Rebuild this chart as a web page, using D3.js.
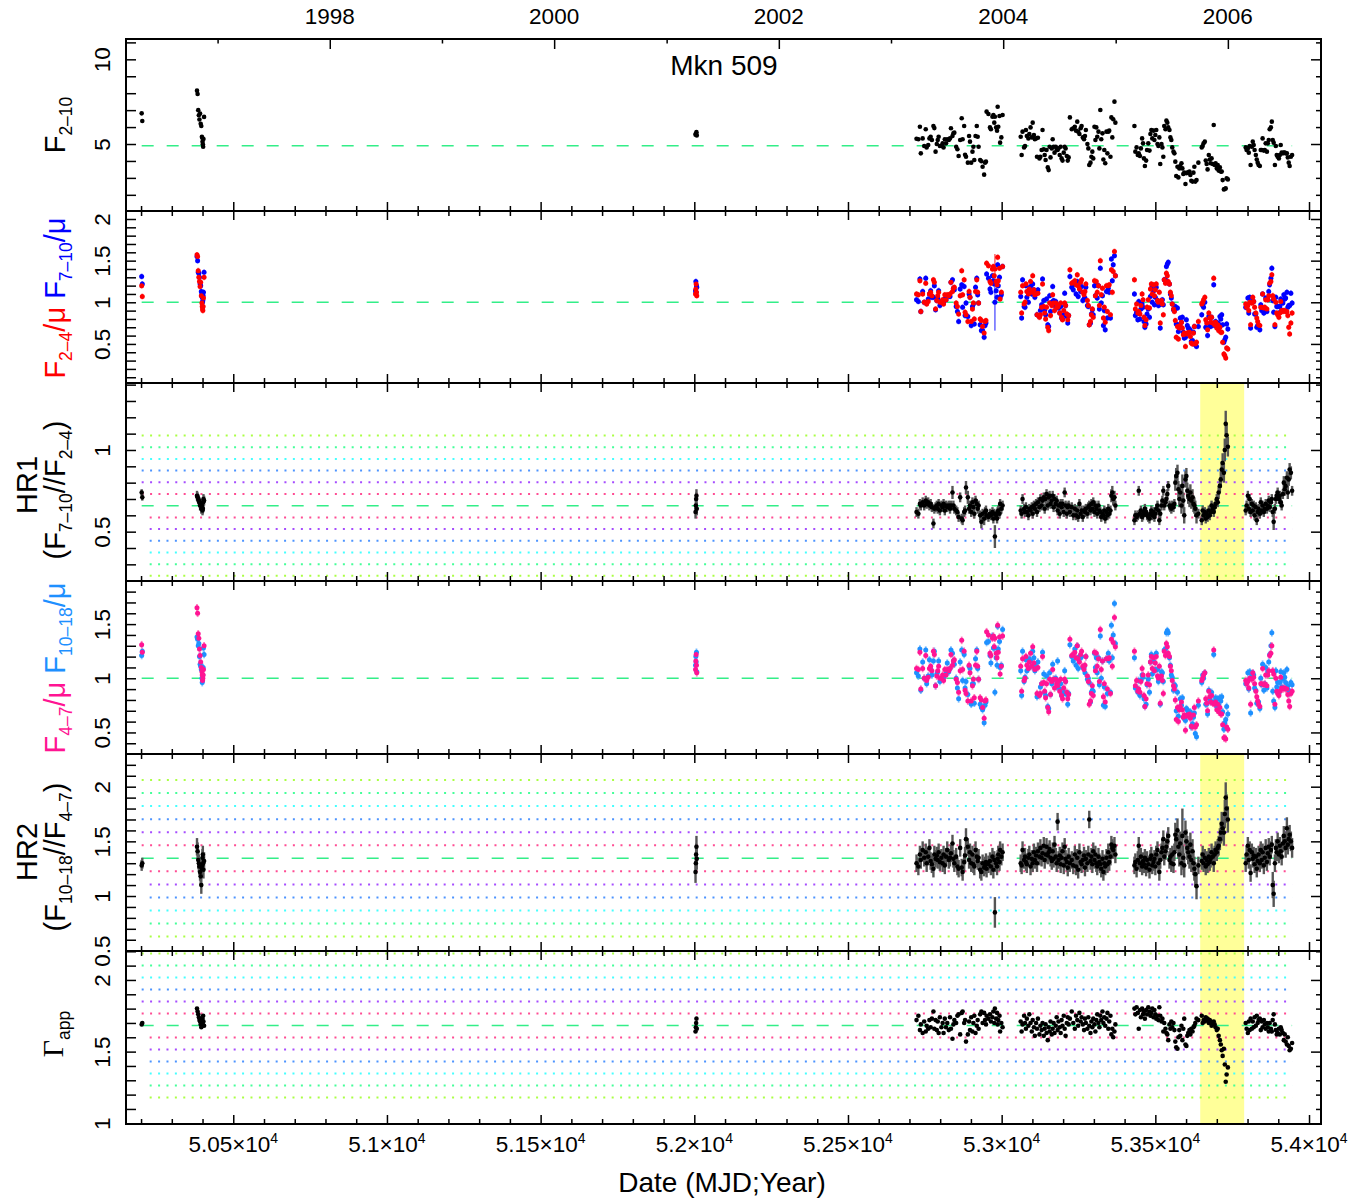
<!DOCTYPE html>
<html><head><meta charset="utf-8">
<script src="https://cdn.jsdelivr.net/npm/d3@7"></script>
<style>body{margin:0;background:#fff}svg text{font-family:"Liberation Sans",Arial,sans-serif}</style>
</head><body>
<svg id="chart" width="1372" height="1201"></svg>
<script>
// ---------------- DATA ----------------
const mjd = [
50202,50204,
50382,50384,50386,50388,50390,50392,50394,50396,50398,50399,50400,50401,50402,50403,50405,
52004,52005,52006,52007,52008,
52723,52729,52734,52737,52743,52748,52753,52756,52761,52765,
52769,52773,52778,52781,52785,52789,52792,52795,52799,52804,
52808,52811,52815,52819,52823,52828,52832,52835,52840,52843,
52846,52852,52856,52860,52865,52870,52873,52878,52881,52884,
52890,52894,52897,52901,52905,52908,52911,52915,52919,52922,
52925,52930,52934,52938,52943,52946,52949,52951,52957,52962,
52965,52970,52973,52976,52978,52982,52985,52987,52989,52993,
52995,52999,53003,
53062,53065,53068,53073,53076,53079,53082,53087,53090,53094,
53098,53101,53105,53108,53112,53115,53118,53123,53126,53130,
53133,53137,53140,53143,53146,53150,53153,53156,53159,53163,
53166,53169,53172,53176,53179,53182,53185,53189,53192,53195,
53198,53202,53205,53208,53212,53215,53218,53222,53228,53233,
53238,53242,53246,53249,53253,53257,53260,53264,53268,53271,
53274,53279,53282,53285,53289,53292,53295,53298,53302,53305,
53308,53311,53315,53318,53321,53324,53328,53331,53334,53337,
53341,53344,53347,53350,53354,53357,53360,53363,53367,53370,
53432,53435,53439,53443,53446,53450,53453,53457,53460,53463,
53466,53470,53473,53477,53481,53484,53487,53490,53494,53497,
53500,53503,53507,53510,53513,53516,53520,53523,53526,53529,
53533,53536,53539,53542,53546,53549,53552,53555,53559,53562,
53565,53568,53572,53575,53578,53581,53585,53588,53591,53594,
53598,53601,53604,53607,53611,53614,53617,53621,53624,53627,
53630,53634,53640,53651,53654,53657,53661,53664,53667,53670,
53674,53677,53680,53683,53687,53690,53693,53696,53700,53703,
53706,53710,53713,53716,53719,53723,53726,53729,53732,53736,
53794,53797,53801,53804,53807,53810,53814,53817,53820,53823,
53827,53830,53833,53836,53840,53843,53846,53849,53853,53856,
53859,53863,53866,53869,53872,53876,53879,53882,53885,53889,
53892,53895,53898,53902,53905,53908,53911,53915,53918,53921,
53924,53928,53931,53934,53937,53941,53945];

const flux2to10 = [
6.81,6.36,
8.15,7.95,7.00,6.70,6.45,6.80,6.20,6.06,5.43,5.37,5.14,4.98,4.84,5.30,6.60,
5.55,5.62,5.58,5.70,5.50,
5.31,5.28,6.02,4.45,5.33,4.88,5.87,4.80,4.94,5.33,
5.43,5.24,6.06,5.94,4.55,5.00,5.24,5.43,4.88,4.88,
5.04,4.80,5.28,5.04,5.28,5.24,5.33,5.93,5.47,5.63,
5.67,4.84,4.69,4.29,5.24,6.52,5.28,6.06,4.37,4.25,
3.90,5.47,5.14,3.90,4.55,4.84,4.06,5.47,6.06,5.43,
4.84,4.06,3.98,3.66,3.19,3.90,3.96,6.91,6.77,5.98,
5.87,6.61,6.71,6.26,6.61,5.98,5.79,7.20,6.02,6.65,
5.08,5.39,6.71,
5.43,4.35,5.73,4.80,4.88,5.83,5.47,5.33,5.59,5.98,
5.39,6.26,5.53,5.28,5.33,4.25,5.37,4.15,4.25,4.65,
5.83,4.69,4.35,4.06,4.65,3.62,3.46,4.84,4.21,4.74,
5.28,4.84,4.49,4.84,4.65,4.65,4.74,4.35,4.84,4.15,
4.02,4.49,4.84,4.74,4.29,4.02,4.21,6.57,5.87,5.93,
6.02,5.79,6.32,5.73,5.59,5.93,6.06,5.39,5.28,5.47,
5.83,5.00,4.74,3.76,3.90,4.25,4.55,4.15,6.02,5.24,
5.98,5.43,5.73,4.74,7.01,5.28,5.63,4.09,4.65,3.86,
5.73,4.45,5.73,5.79,4.25,6.57,5.39,6.46,7.50,6.26,
6.06,4.55,4.80,4.35,4.45,4.29,4.74,5.33,5.04,4.15,
3.70,4.02,4.65,5.04,4.61,5.59,5.83,5.33,5.79,5.24,
5.53,5.83,5.00,4.88,5.39,3.82,5.00,4.80,4.25,6.06,
5.87,6.38,6.26,5.98,5.83,5.39,5.24,4.80,4.55,4.45,
3.96,3.11,3.66,3.03,3.56,3.70,3.86,3.56,3.23,3.31,
2.64,3.27,3.31,3.31,3.37,3.17,2.83,2.78,3.31,3.66,
2.78,2.87,3.90,4.80,4.88,5.04,5.14,4.02,3.82,3.50,
4.35,4.09,3.86,4.15,3.82,6.12,3.76,3.86,3.56,3.76,
3.43,3.62,3.37,3.37,2.87,2.32,2.34,2.38,2.97,2.91,
4.80,4.65,4.74,4.49,4.88,3.76,4.84,5.14,4.94,4.65,
4.35,4.09,3.90,3.76,3.70,4.65,4.65,5.33,4.61,4.65,
5.04,4.55,5.04,5.24,5.87,5.98,6.32,5.24,5.08,3.76,
4.88,4.35,4.25,4.15,4.35,4.94,4.49,4.45,4.49,4.49,
4.45,4.45,4.21,3.90,3.70,4.25,4.35];

const soft2to4 = [
1.20,1.07,
1.57,1.55,1.38,1.30,1.25,1.19,1.24,1.08,0.99,0.95,0.92,0.90,0.95,1.05,1.30,
1.10,1.16,1.22,1.12,1.08,
1.10,1.09,1.26,0.89,1.10,1.00,1.23,0.98,1.01,1.10,
1.12,1.08,1.27,1.24,0.92,1.02,1.08,1.12,1.00,1.00,
1.03,0.98,1.09,1.03,1.09,1.08,1.10,1.24,1.13,1.17,
1.18,0.99,0.95,0.86,1.08,1.38,1.09,1.27,0.88,0.85,
0.77,1.13,1.06,0.77,0.92,0.99,0.80,1.13,1.27,1.12,
0.99,0.80,0.78,0.71,0.63,0.77,0.78,1.47,1.44,1.25,
1.23,1.40,1.43,1.32,1.40,1.25,1.21,1.54,1.26,1.41,
1.04,1.12,1.43,
1.12,.87,1.20,.98,1.00,1.22,1.13,1.10,1.16,1.25,
1.12,1.32,1.15,1.09,1.10,.85,1.11,.82,.85,.94,
1.22,.95,.87,.80,.94,.70,.66,.99,.84,.96,
1.09,.99,.90,.99,.94,.94,.96,.87,.99,.82,
.79,.90,.99,.96,.86,.79,.84,1.39,1.23,1.24,
1.26,1.21,1.33,1.20,1.16,1.24,1.27,1.12,1.09,1.13,
1.22,1.02,.96,.73,.77,.85,.92,.82,1.26,1.08,
1.25,1.12,1.20,.96,1.50,1.09,1.17,.81,.94,.76,
1.20,.89,1.20,1.21,.85,1.39,1.12,1.37,1.61,1.32,
1.27,.92,.98,.87,.89,.86,.96,1.10,1.03,.82,
.72,.79,.94,1.03,.93,1.16,1.22,1.10,1.21,1.08,
1.15,1.22,1.02,1.00,1.12,.75,1.02,.98,.85,1.27,
1.23,1.35,1.32,1.25,1.22,1.12,1.08,.98,.92,.89,
.78,.58,.71,.56,.69,.72,.76,.69,.61,.63,
.47,.62,.63,.63,.64,.59,.51,.50,.63,.71,
.50,.52,.77,.98,1.00,1.03,1.06,.79,.75,.67,
.87,.81,.76,.82,.75,1.29,.73,.76,.69,.73,
.66,.70,.64,.64,.52,.38,.36,.33,.45,.44,
.98,.94,.96,.90,1.00,.73,.99,1.06,1.01,.94,
.87,.81,.77,.73,.72,.94,.94,1.10,.93,.94,
1.03,.92,1.03,1.08,1.23,1.25,1.33,1.08,1.04,.73,
1.00,.87,.85,.82,.87,1.01,.90,.89,.90,.90,
.89,.89,.84,.70,.62,.75,.87];

const hard7to10 = [
1.31,1.22,
1.55,1.50,1.36,1.35,1.30,1.22,1.20,1.13,1.10,1.06,1.00,1.02,1.08,1.12,1.36,
1.14,1.25,1.12,1.20,1.18,
1.03,1.01,1.28,0.89,1.13,1.00,1.29,1.00,1.04,1.10,
1.14,1.06,1.06,1.20,0.91,1.02,1.05,1.14,0.96,1.00,
1.02,1.00,1.04,1.03,1.08,1.08,1.07,1.24,1.27,1.17,
1.15,0.95,0.89,0.77,1.16,1.21,0.94,1.19,0.84,0.99,
0.83,1.10,1.06,0.72,0.95,0.98,0.74,1.18,1.29,1.09,
0.99,0.73,0.66,0.66,0.58,0.72,0.75,1.34,1.29,1.16,
1.12,1.32,1.26,1.22,1.00,1.14,1.06,1.45,1.20,1.30,
1.06,1.09,1.43,
1.07,.81,1.27,.95,.94,1.20,1.06,1.00,1.13,1.19,
1.10,1.22,1.15,1.06,1.12,.85,1.15,.83,.90,.97,
1.28,1.02,.90,.85,1.04,.73,.71,1.08,.89,1.00,
1.19,1.02,.96,1.01,.98,.94,.93,.87,.95,.81,
.80,.85,1.11,.96,.83,.75,.84,1.31,1.18,1.15,
1.22,1.10,1.25,1.07,1.18,1.13,1.19,1.02,1.04,1.05,
1.18,.96,.95,.73,.75,.86,.91,.85,1.20,1.08,
1.21,1.05,1.20,.92,1.41,.99,1.08,.72,.90,.67,
1.13,.81,1.17,1.12,.81,1.52,1.26,1.45,1.56,1.32,
1.10,.84,.88,.79,1.01,.80,.92,.98,.94,.77,
.70,.74,.86,.92,.82,1.07,1.17,1.00,1.14,.97,
1.06,1.18,1.02,.96,.97,.69,1.02,1.03,.97,1.27,
1.27,1.43,1.46,1.48,1.22,1.10,1.05,.98,.91,.90,
.95,.74,.93,.65,.73,.81,.76,.82,.64,.57,
.58,.79,.72,.69,.68,.66,.53,.54,.64,.71,
.49,.47,.71,.85,.96,.94,1.00,.70,.69,.60,
.83,.74,.71,.82,.73,1.21,.72,.77,.73,.75,
.74,.83,.80,.85,.73,.52,.55,.58,.74,.68,
.94,.94,1.05,.87,1.06,.69,1.01,1.01,1.01,.86,
.86,.70,.72,.71,.67,.97,.90,1.10,.87,.91,
1.05,.89,1.03,1.13,1.21,1.29,1.41,1.02,.88,.71,
1.06,.95,.95,.87,.95,1.04,.90,.99,1.09,1.04,
1.05,1.12,.94,.96,.96,1.11,.99];

const hr1 = [
.74,.71,
.72,.71,.70,.69,.68,.66,.67,.64,.66,.65,.63,.64,.68,.70,.69,
.62,.66,.70,.72,.64,
.62,.61,.67,.66,.68,.66,.69,.67,.68,.66,
.67,.65,.55,.64,.65,.66,.64,.67,.63,.66,
.65,.67,.63,.66,.65,.66,.64,.66,.74,.66,
.64,.63,.62,.59,.71,.58,.57,.62,.63,.77,
.71,.64,.66,.62,.68,.65,.61,.69,.67,.64,
.66,.60,.56,.61,.58,.62,.63,.60,.59,.61,
.60,.62,.58,.61,.47,.60,.58,.62,.63,.61,
.67,.64,.66,
.63,.61,.70,.64,.62,.65,.62,.60,.64,.63,
.65,.61,.66,.64,.67,.62,.68,.65,.70,.66,
.69,.71,.64,.70,.73,.66,.71,.72,.67,.69,
.72,.65,.70,.67,.69,.63,.66,.61,.67,.65,
.67,.62,.74,.66,.61,.65,.66,.62,.65,.60,
.64,.60,.63,.59,.67,.61,.63,.59,.63,.62,
.64,.61,.65,.66,.63,.67,.64,.68,.62,.66,
.64,.61,.66,.63,.62,.59,.61,.60,.63,.58,
.62,.60,.64,.61,.63,.72,.74,.70,.71,.66,
.57,.60,.59,.60,.75,.61,.63,.59,.60,.62,
.64,.62,.60,.59,.58,.61,.63,.60,.62,.59,
.61,.64,.66,.63,.57,.61,.66,.69,.75,.66,
.68,.70,.73,.78,.66,.65,.64,.66,.65,.67,
.80,.84,.86,.76,.70,.74,.66,.78,.69,.60,
.82,.84,.75,.72,.70,.74,.69,.71,.67,.66,
.64,.60,.61,.57,.63,.60,.62,.58,.61,.59,
.63,.60,.62,.66,.64,.62,.65,.67,.70,.68,
.74,.78,.82,.88,.92,.86,1.00,1.16,1.09,1.02,
.63,.66,.72,.64,.70,.62,.67,.63,.66,.60,
.65,.57,.62,.64,.61,.68,.63,.66,.62,.64,
.67,.64,.66,.69,.65,.68,.70,.62,.56,.64,
.70,.72,.74,.70,.72,.68,.66,.73,.80,.76,
.78,.83,.74,.82,.88,.86,.75];

const mid4to7 = [
1.31,1.24,
1.65,1.60,1.41,1.37,1.27,1.21,1.15,1.10,1.06,1.03,0.98,1.00,1.03,1.08,1.30,
1.08,1.16,1.22,1.12,1.05,
1.09,1.08,1.24,0.90,1.09,1.00,1.21,0.98,1.01,1.09,
1.11,1.07,1.25,1.22,0.93,1.02,1.07,1.11,1.00,1.00,
1.03,0.98,1.08,1.03,1.08,1.07,1.09,1.22,1.12,1.16,
1.17,0.99,0.96,0.87,1.07,1.35,1.08,1.25,0.89,0.86,
0.79,1.12,1.05,0.79,0.93,0.99,0.82,1.12,1.25,1.11,
0.99,0.82,0.80,0.73,0.63,0.79,0.80,1.43,1.40,1.23,
1.21,1.37,1.39,1.29,1.37,1.23,1.19,1.49,1.24,1.38,
1.04,1.11,1.39,
1.11,.88,1.18,.98,1.00,1.20,1.12,1.09,1.15,1.23,
1.11,1.29,1.14,1.08,1.09,.86,1.10,.84,.86,.95,
1.20,.96,.88,.82,.95,.73,.69,.99,.85,.97,
1.08,.99,.91,.99,.95,.93,.97,.88,.99,.84,
.81,.91,.99,.97,.87,.81,.85,1.36,1.21,1.22,
1.24,1.19,1.30,1.18,1.15,1.22,1.25,1.11,1.08,1.12,
1.20,1.02,.97,.76,.79,.86,.93,.84,1.24,1.07,
1.23,1.11,1.18,.97,1.45,1.08,1.16,.83,.95,.78,
1.18,.90,1.18,1.19,.86,1.36,1.11,1.33,1.56,1.29,
1.25,.93,.98,.88,.90,.87,.97,1.09,1.03,.84,
.74,.81,.95,1.03,.94,1.15,1.20,1.09,1.19,1.07,
1.14,1.20,1.02,1.00,1.11,.77,1.02,.98,.86,1.25,
1.21,1.32,1.29,1.23,1.20,1.11,1.07,.98,.93,.90,
.80,.62,.73,.60,.71,.74,.78,.71,.64,.66,
.52,.65,.66,.66,.67,.63,.56,.55,.66,.73,
.55,.57,.79,.98,1.00,1.03,1.05,.81,.77,.70,
.88,.83,.78,.84,.77,1.26,.76,.78,.71,.76,
.69,.73,.67,.67,.57,.45,.45,.44,.55,.53,
.98,.95,.97,.91,1.00,.76,.99,1.05,1.01,.95,
.88,.83,.79,.76,.74,.95,.95,1.09,.94,.95,
1.03,.93,1.03,1.07,1.21,1.23,1.30,1.07,1.04,.76,
1.00,.88,.86,.84,.88,1.01,.91,.90,.91,.91,
.90,.90,.85,.79,.74,.86,.88];

const hard10to18 = [
1.21,1.25,
1.38,1.36,1.30,1.32,1.20,1.13,1.11,1.08,1.00,0.96,0.98,1.03,1.10,1.28,1.22,
1.12,1.20,1.15,1.24,1.06,
1.05,1.02,1.27,0.89,1.15,1.00,1.26,0.95,1.02,1.17,
1.09,1.03,1.16,1.25,0.93,1.04,1.06,1.16,0.97,1.00,
1.00,1.01,1.03,1.04,1.14,1.06,1.09,1.26,1.23,1.16,
1.13,1.00,0.91,0.81,1.15,1.26,0.98,1.22,0.91,0.97,
0.85,1.11,1.09,0.76,0.95,0.95,0.77,1.18,1.26,1.09,
0.99,0.76,0.73,0.71,0.59,0.75,0.78,1.33,1.34,1.21,
1.14,1.39,1.28,1.28,0.87,1.19,1.12,1.48,1.27,1.34,
1.10,1.12,1.45,
1.07,.84,1.25,.97,1.01,1.17,1.07,1.09,1.18,1.16,
1.11,1.25,1.19,1.07,1.11,.83,1.15,.85,.92,.95,
1.24,1.04,.87,.84,1.02,.74,.72,1.05,.85,.95,
1.13,.99,.99,1.00,.92,1.16,.96,.90,.95,.84,
.85,.87,1.07,.97,.85,.76,.86,1.31,1.20,1.16,
1.27,1.12,1.30,1.09,1.20,1.19,1.20,1.10,1.10,1.05,
1.20,.99,1.00,.96,.78,.87,.89,.88,1.23,1.10,
1.19,1.05,1.19,.94,1.39,1.00,1.16,.75,.92,.74,
1.18,.86,1.23,1.16,.87,1.49,1.19,1.40,1.69,1.32,
1.19,.91,.91,.87,.98,.84,.98,1.03,1.01,.81,
.74,.76,.94,.99,.87,1.15,1.22,1.04,1.16,1.07,
1.08,1.23,1.08,.97,1.01,.76,1.06,1.05,.97,1.26,
1.27,1.42,1.44,1.42,1.19,1.12,1.03,1.01,.89,.94,
.93,.70,.87,.65,.73,.81,.75,.82,.64,.63,
.61,.72,.71,.69,.68,.69,.55,.58,.64,.68,
.49,.46,.75,.96,1.03,1.00,1.05,.76,.76,.67,
.89,.81,.78,.87,.78,1.22,.78,.82,.74,.81,
.75,.82,.79,.83,.69,.53,.59,.62,.74,.67,
.95,.97,1.05,.90,1.06,.68,1.03,1.05,1.03,.91,
.89,.77,.78,.78,.72,1.00,.94,1.13,.89,.95,
1.10,.91,1.06,1.15,1.22,1.30,1.42,.88,.79,.73,
1.07,.92,.96,.86,.96,1.06,.92,.99,1.05,1.01,
.96,1.08,.93,.89,.86,.96,.94];

const hr2 = [
1.28,1.30,
1.45,1.41,1.33,1.30,1.27,1.22,1.18,1.10,1.25,1.28,1.35,1.38,1.30,1.24,1.32,
1.22,1.30,1.38,1.45,1.34,
1.30,1.27,1.38,1.33,1.42,1.35,1.40,1.30,1.36,1.44,
1.32,1.29,1.25,1.38,1.34,1.37,1.33,1.40,1.31,1.35,
1.30,1.38,1.28,1.36,1.42,1.33,1.35,1.39,1.48,1.34,
1.30,1.36,1.27,1.25,1.44,1.26,1.22,1.31,1.37,1.52,
1.45,1.33,1.40,1.30,1.38,1.29,1.27,1.42,1.36,1.32,
1.35,1.24,1.22,1.30,1.26,1.28,1.31,1.25,1.29,1.32,
1.27,1.36,1.24,1.33,0.85,1.30,1.27,1.34,1.38,1.31,
1.42,1.36,1.40,
1.30,1.28,1.42,1.33,1.36,1.31,1.29,1.35,1.38,1.27,
1.34,1.30,1.40,1.33,1.37,1.30,1.41,1.36,1.44,1.35,
1.39,1.46,1.33,1.38,1.45,1.37,1.40,1.43,1.35,1.32,
1.41,1.34,1.47,1.36,1.30,1.68,1.33,1.37,1.29,1.35,
1.41,1.28,1.45,1.34,1.31,1.26,1.36,1.30,1.33,1.28,
1.38,1.27,1.35,1.24,1.40,1.31,1.29,1.33,1.37,1.26,
1.34,1.30,1.38,1.70,1.32,1.36,1.29,1.41,1.33,1.38,
1.30,1.27,1.36,1.31,1.29,1.25,1.34,1.22,1.30,1.27,
1.35,1.29,1.40,1.31,1.36,1.47,1.44,1.42,1.46,1.38,
1.28,1.31,1.25,1.33,1.46,1.30,1.36,1.27,1.32,1.29,
1.35,1.26,1.33,1.29,1.24,1.34,1.37,1.28,1.31,1.34,
1.27,1.38,1.42,1.30,1.22,1.33,1.40,1.44,1.52,1.36,
1.41,1.45,1.50,1.55,1.33,1.36,1.30,1.38,1.29,1.40,
1.56,1.52,1.60,1.45,1.38,1.48,1.30,1.55,1.35,1.28,
1.58,1.50,1.44,1.40,1.36,1.47,1.33,1.41,1.30,1.25,
1.20,1.09,1.28,1.32,1.38,1.30,1.35,1.27,1.33,1.29,
1.36,1.31,1.34,1.40,1.36,1.30,1.38,1.42,1.40,1.44,
1.46,1.52,1.58,1.66,1.62,1.58,1.75,1.90,1.80,1.70,
1.30,1.38,1.46,1.33,1.42,1.21,1.40,1.34,1.37,1.29,
1.36,1.25,1.32,1.38,1.30,1.42,1.33,1.40,1.28,1.35,
1.44,1.31,1.39,1.45,1.36,1.42,1.47,1.10,1.02,1.30,
1.44,1.40,1.50,1.38,1.46,1.41,1.36,1.48,1.55,1.50,
1.44,1.62,1.47,1.52,1.56,1.50,1.44];

const gammaApp = [
1.69,1.70,
1.80,1.78,1.76,1.74,1.72,1.71,1.69,1.67,1.70,1.68,1.73,1.69,1.75,1.71,1.68,
1.64,1.67,1.70,1.73,1.66,
1.72,1.75,1.65,1.69,1.63,1.71,1.64,1.68,1.66,1.72,
1.67,1.73,1.78,1.66,1.72,1.65,1.71,1.63,1.74,1.67,
1.70,1.63,1.73,1.67,1.70,1.65,1.74,1.66,1.59,1.69,
1.72,1.70,1.75,1.76,1.62,1.77,1.78,1.70,1.72,1.57,
1.62,1.71,1.65,1.74,1.64,1.70,1.75,1.63,1.68,1.72,
1.66,1.76,1.78,1.70,1.77,1.72,1.69,1.75,1.73,1.76,
1.71,1.74,1.78,1.70,1.80,1.73,1.77,1.69,1.72,1.75,
1.64,1.70,1.67,
1.71,1.64,1.69,1.75,1.70,1.66,1.73,1.68,1.76,1.70,
1.64,1.72,1.67,1.61,1.70,1.66,1.73,1.62,1.68,1.65,
1.70,1.61,1.66,1.69,1.63,1.58,1.67,1.64,1.71,1.62,
1.66,1.70,1.63,1.68,1.74,1.65,1.71,1.67,1.63,1.72,
1.68,1.75,1.66,1.61,1.70,1.74,1.69,1.73,1.78,1.70,
1.66,1.75,1.72,1.68,1.77,1.71,1.74,1.69,1.65,1.73,
1.70,1.66,1.74,1.68,1.63,1.71,1.67,1.73,1.69,1.64,
1.72,1.76,1.70,1.67,1.75,1.72,1.78,1.70,1.74,1.68,
1.73,1.77,1.66,1.71,1.75,1.62,1.66,1.60,1.64,1.69,
1.80,1.76,1.81,1.77,1.66,1.79,1.74,1.80,1.76,1.78,
1.73,1.79,1.76,1.81,1.78,1.75,1.77,1.80,1.74,1.79,
1.76,1.73,1.75,1.72,1.81,1.75,1.71,1.73,1.64,1.70,
1.66,1.63,1.62,1.58,1.69,1.66,1.71,1.67,1.70,1.65,
1.57,1.53,1.52,1.60,1.65,1.61,1.68,1.58,1.66,1.73,
1.55,1.54,1.61,1.63,1.65,1.62,1.66,1.64,1.67,1.68,
1.70,1.73,1.72,1.75,1.70,1.72,1.71,1.74,1.72,1.73,
1.70,1.72,1.71,1.68,1.69,1.71,1.69,1.67,1.65,1.66,
1.61,1.58,1.55,1.51,1.47,1.52,1.41,1.29,1.34,1.39,
1.70,1.66,1.63,1.71,1.65,1.73,1.66,1.71,1.67,1.74,
1.68,1.75,1.70,1.72,1.73,1.65,1.71,1.67,1.72,1.69,
1.66,1.70,1.67,1.64,1.70,1.66,1.64,1.72,1.76,1.69,
1.65,1.62,1.63,1.66,1.62,1.67,1.65,1.63,1.58,1.62,
1.57,1.55,1.60,1.54,1.51,1.52,1.56];

// 1-sigma errors of the hardness ratios, in hundredths
const hr1ErrCenti = [
2,2,
3,3,3,3,3,3,3,3,3,3,3,3,3,3,3,
4,4,4,4,4,
3,3,3,3,3,3,3,3,3,3, 3,3,3,3,3,3,3,3,3,3, 3,3,3,3,3,3,3,3,4,3, 3,3,3,3,3,3,3,3,3,4,
4,3,3,3,3,3,3,3,3,3, 3,3,4,3,4,3,3,3,3,3, 3,3,3,3,7,3,3,3,3,3, 3,3,3,
3,3,3,3,3,3,3,3,3,3, 3,3,3,3,3,3,3,3,3,3, 3,3,3,3,3,3,3,3,3,3, 3,3,3,3,3,3,3,3,3,3,
3,3,3,3,3,3,3,3,3,3, 3,3,3,3,3,3,3,3,3,3, 3,3,3,3,3,3,3,3,3,3, 3,3,3,3,3,3,3,3,3,3,
3,3,3,3,3,4,4,4,4,3,
3,3,3,3,3,3,3,3,3,3, 3,3,3,3,3,3,3,3,3,3, 3,3,3,3,3,3,3,3,3,3, 3,3,3,3,3,3,3,3,3,3,
5,5,5,5,5,5,5,7,5,5, 5,5,5,5,5,5,5,5,5,5, 5,5,3,3,3,3,3,3,3,3, 3,3,3,3,3,3,3,3,3,3,
4,4,5,5,6,6,7,8,7,6,
3,3,3,3,3,3,3,3,3,3, 3,3,3,3,3,3,3,3,3,3, 3,3,3,3,3,3,3,3,5,3, 3,3,3,3,3,3,3,3,4,4,
4,4,4,4,4,4,3];

const hr2ErrCenti = [
5,5,
8,8,8,8,8,8,8,8,8,8,8,8,8,8,8,
10,10,10,10,10,
8,8,8,8,8,8,8,8,8,8, 8,8,8,8,8,8,8,8,8,8, 8,8,8,8,8,8,8,8,8,8, 8,8,8,8,8,8,8,8,8,10,
8,8,8,8,8,8,8,8,8,8, 8,8,8,8,8,8,8,8,8,8, 8,8,8,8,14,8,8,8,8,8, 8,8,8,
8,8,8,8,8,8,8,8,8,8, 8,8,8,8,8,8,8,8,8,8, 8,8,8,8,8,8,8,8,8,8, 8,8,8,8,8,8,8,8,8,8,
8,8,8,8,8,8,8,8,8,8, 8,8,8,8,8,8,8,8,8,8, 8,8,8,8,8,8,8,8,8,8, 8,8,8,8,8,8,8,8,8,8,
8,8,8,8,8,8,8,8,8,8,
8,8,8,8,8,8,8,8,8,8, 8,8,8,8,8,8,8,8,8,8, 8,8,8,8,8,8,8,8,8,8, 8,8,8,8,8,8,8,8,8,8,
11,11,11,11,11,11,11,25,11,11, 11,11,11,11,11,11,11,11,11,11, 11,12,8,8,8,8,8,8,8,8, 8,8,8,8,8,8,8,8,8,8,
9,10,10,11,12,12,13,14,13,12,
8,8,8,8,8,8,8,8,8,8, 8,8,8,8,8,8,8,8,8,8, 8,8,8,8,8,8,8,12,12,8, 8,8,8,8,8,8,8,8,9,9,
9,10,9,9,9,9,9];

const ratioErr = 0.035;              // typical error of the normalised band fluxes
const bigErrMjd = [52978];           // one observation with a large error
const bigErrSoft = [0.18], bigErrHard = [0.34];

// reference lines
const fluxMean = 4.9;
const hr1Mean = 0.659, hr1Sigma = 0.0716;
const hr2Mean = 1.345, hr2Sigma = 0.1194;
const gamMean = 1.682, gamSigma = 0.0837;
const flareBand = [53646, 53789];

// axes
const mjdRange = [50151, 54039];
const mjdMajor = [50500,51000,51500,52000,52500,53000,53500,54000];
const mjdMajorLabels = ["5.05","5.1","5.15","5.2","5.25","5.3","5.35","5.4"];
const yearTicks = [1997,1998,1999,2000,2001,2002,2003,2004,2005,2006];
const yearTickMjd = [50449,50814,51179,51544,51910,52275,52640,53005,53371,53736];
const yearLabels = ["1998","2000","2002","2004","2006"];
const yDomains = [[1.045,11.2],[0.031,2.096],[0.198,1.41],[0.301,1.898],[0.497,2.299],[0.995,2.202]];
const yLabelVals = [[5,10],[0.5,1,1.5,2],[0.5,1],[0.5,1,1.5],[0.5,1,1.5,2],[1,1.5,2]];
const yMinorStep = [1,0.1,0.1,0.1,0.1,0.1];

// ---------------- LAYOUT ----------------
const L = 126, R = 1321;
const panelTop = [39,211,383,581,754,951];
const panelBot = [211,383,581,754,951,1124];
const sigmaColors = ["#ff4d94","#a64dff","#4d94ff","#44ffff","#44ff99","#aaff44"];
const meanColor = "#33ee88";

const svg = d3.select("#chart");
const x = d3.scaleLinear().domain(mjdRange).range([L, R]);
const ys = yDomains.map((d,i)=>d3.scaleLinear().domain(d).range([panelBot[i], panelTop[i]]));

const defs = svg.append("defs");
panelTop.forEach((t,i)=>{
  defs.append("clipPath").attr("id","clip"+i).append("rect")
    .attr("x",L).attr("y",t).attr("width",R-L).attr("height",panelBot[i]-t);
});
const layers = ys.map((y,i)=>svg.append("g").attr("clip-path",`url(#clip${i})`));

const idx = d3.range(mjd.length);

// flare band
[2,4,5].forEach(i=>{
  layers[i].append("rect").attr("x",x(flareBand[0])).attr("width",x(flareBand[1])-x(flareBand[0]))
    .attr("y",panelTop[i]).attr("height",panelBot[i]-panelTop[i]).attr("fill","#ffff99");
});

// sigma lines
const xs0 = x(mjd[0]), xs1 = x(mjd[mjd.length-1]);
[{i:2,m:hr1Mean,s:hr1Sigma},{i:4,m:hr2Mean,s:hr2Sigma},{i:5,m:gamMean,s:gamSigma}].forEach(p=>{
  for(let k=1;k<=6;k++){
    [1,-1].forEach(sg=>{
      const yy = ys[p.i](p.m + sg*k*p.s);
      layers[p.i].append("line").attr("x1", sg>0?xs0:xs0+8).attr("x2",xs1)
        .attr("y1",yy).attr("y2",yy).attr("stroke",sigmaColors[k-1])
        .attr("stroke-width",2).attr("stroke-dasharray","2,6.4");
    });
  }
});
// mean lines
[fluxMean,1,hr1Mean,1,hr2Mean,gamMean].forEach((m,i)=>{
  layers[i].append("line").attr("x1",xs0).attr("x2",xs1)
    .attr("y1",ys[i](m)).attr("y2",ys[i](m)).attr("stroke",meanColor)
    .attr("stroke-width",1.6).attr("stroke-dasharray","12,13");
});

function errOf(i, which){
  const b = bigErrMjd.indexOf(mjd[i]);
  if(b>=0) return which==="soft"?bigErrSoft[b]:bigErrHard[b];
  return ratioErr;
}
function ok(v){ return v!==undefined && !isNaN(v); }

function errBars(layer, y, vals, errFn, color, width){
  layer.append("g").selectAll("line").data(idx.filter(i=>ok(vals[i]))).join("line")
    .attr("x1",i=>x(mjd[i])).attr("x2",i=>x(mjd[i]))
    .attr("y1",i=>y(vals[i]-errFn(i))).attr("y2",i=>y(vals[i]+errFn(i)))
    .attr("stroke",color).attr("stroke-width",width);
}
function dots(layer, y, vals, color, r){
  layer.append("g").selectAll("circle").data(idx.filter(i=>ok(vals[i]))).join("circle")
    .attr("cx",i=>x(mjd[i])).attr("cy",i=>y(vals[i])).attr("r",r).attr("fill",color);
}

// panel 1
dots(layers[0], ys[0], flux2to10, "#000", 2.3);
// panel 2
errBars(layers[1], ys[1], hard7to10, i=>errOf(i,"hard"), "#7f7fff", 1.8);
errBars(layers[1], ys[1], soft2to4, i=>errOf(i,"soft"), "#ff7f7f", 1.8);
dots(layers[1], ys[1], hard7to10, "#0000ff", 2.5);
dots(layers[1], ys[1], soft2to4, "#ff0000", 2.5);
// panel 3
errBars(layers[2], ys[2], hr1, i=>hr1ErrCenti[i]/100, "#555", 2.4);
dots(layers[2], ys[2], hr1, "#000", 2.3);
// panel 4
errBars(layers[3], ys[3], hard10to18, i=>ratioErr, "#7fbfff", 1.8);
errBars(layers[3], ys[3], mid4to7, i=>ratioErr, "#ff7fbf", 1.8);
dots(layers[3], ys[3], hard10to18, "#1e90ff", 2.5);
dots(layers[3], ys[3], mid4to7, "#ff1493", 2.5);
// panel 5
errBars(layers[4], ys[4], hr2, i=>hr2ErrCenti[i]/100, "#555", 2.4);
dots(layers[4], ys[4], hr2, "#000", 2.3);
// panel 6
dots(layers[5], ys[5], gammaApp, "#000", 2.3);

// ---------------- AXES ----------------
function styleAxis(g){
  g.select(".domain").remove();
  g.selectAll(".tick line").attr("stroke","#000").attr("stroke-width",1.5);
  return g;
}
const FS = 22.5;
ys.forEach((y,i)=>{
  const d = yDomains[i];
  const minor = d3.range(Math.ceil(d[0]/yMinorStep[i]-1e-6), Math.floor(d[1]/yMinorStep[i]+1e-6)+1)
    .map(k=>+(k*yMinorStep[i]).toFixed(3)).filter(v=>!yLabelVals[i].includes(v));
  styleAxis(svg.append("g").attr("transform",`translate(${L},0)`)
    .call(d3.axisLeft(y).tickValues(minor).tickSize(-10).tickFormat("")));
  const gl = styleAxis(svg.append("g").attr("transform",`translate(${L},0)`)
    .call(d3.axisLeft(y).tickValues(yLabelVals[i]).tickSize(-10).tickFormat(v=>String(v))));
  gl.attr("font-size",FS).attr("font-family","Liberation Sans, Arial, sans-serif");
  gl.selectAll("text").attr("transform","rotate(-90)").attr("x",0).attr("y",-16)
    .attr("dy",null).attr("text-anchor","middle").attr("fill","#000");
  styleAxis(svg.append("g").attr("transform",`translate(${R},0)`)
    .call(d3.axisRight(y).tickValues(minor).tickSize(-5).tickFormat("")));
  styleAxis(svg.append("g").attr("transform",`translate(${R},0)`)
    .call(d3.axisRight(y).tickValues(yLabelVals[i]).tickSize(-10).tickFormat("")));
});

const mjdMinor = d3.range(50200, 54001, 100).filter(v=>!mjdMajor.includes(v));
panelBot.forEach(b=>{
  styleAxis(svg.append("g").attr("transform",`translate(0,${b})`)
    .call(d3.axisBottom(x).tickValues(mjdMajor).tickSize(-9).tickFormat("")));
  styleAxis(svg.append("g").attr("transform",`translate(0,${b})`)
    .call(d3.axisBottom(x).tickValues(mjdMinor).tickSize(-5).tickFormat("")));
});
panelTop.slice(1).forEach(t=>{
  styleAxis(svg.append("g").attr("transform",`translate(0,${t})`)
    .call(d3.axisTop(x).tickValues(mjdMajor).tickSize(-9).tickFormat("")));
  styleAxis(svg.append("g").attr("transform",`translate(0,${t})`)
    .call(d3.axisTop(x).tickValues(mjdMinor).tickSize(-5).tickFormat("")));
});
// year axis on top
const evenYearMjd = yearTickMjd.filter((m,k)=>yearTicks[k]%2===0);
const oddYearMjd = yearTickMjd.filter((m,k)=>yearTicks[k]%2===1);
styleAxis(svg.append("g").attr("transform",`translate(0,${panelTop[0]})`)
  .call(d3.axisTop(x).tickValues(evenYearMjd).tickSize(-10).tickFormat("")));
styleAxis(svg.append("g").attr("transform",`translate(0,${panelTop[0]})`)
  .call(d3.axisTop(x).tickValues(oddYearMjd).tickSize(-4.5).tickFormat("")));
svg.append("g").selectAll("text").data(evenYearMjd).join("text")
  .attr("x",m=>x(m)).attr("y",24).attr("text-anchor","middle").attr("font-size",FS)
  .text((m,k)=>yearLabels[k]);

// bottom labels
const bl = svg.append("g").selectAll("text").data(mjdMajor).join("text")
  .attr("x",m=>x(m)).attr("y",1152).attr("text-anchor","middle").attr("font-size",FS);
bl.append("tspan").text((m,k)=>mjdMajorLabels[k]+"×10");
bl.append("tspan").text("4").attr("font-size",14).attr("dy",-9);

// frame
svg.append("rect").attr("x",L).attr("y",panelTop[0]).attr("width",R-L).attr("height",panelBot[5]-panelTop[0])
  .attr("fill","none").attr("stroke","#000").attr("stroke-width",2);
panelBot.slice(0,5).forEach(b=>{
  svg.append("line").attr("x1",L).attr("x2",R).attr("y1",b).attr("y2",b).attr("stroke","#000").attr("stroke-width",2);
});

// titles
svg.append("text").attr("x",724).attr("y",75).attr("text-anchor","middle").attr("font-size",28).text("Mkn 509");
svg.append("text").attr("x",722).attr("y",1192).attr("text-anchor","middle").attr("font-size",28).text("Date (MJD;Year)");

function rotTitle(cx, cy, parts){
  const t = svg.append("text").attr("transform",`translate(${cx},${cy}) rotate(-90)`).attr("text-anchor","middle");
  let inSub = false;
  parts.forEach(p=>{
    const ts = t.append("tspan").text(p.t).attr("font-size",p.s||29).attr("fill",p.c||"#000");
    if(p.f) ts.attr("font-family",p.f);
    if(p.sub && !inSub) ts.attr("dy",7);
    if(!p.sub && inSub) ts.attr("dy",-7);
    inSub = !!p.sub;
  });
}
const SUB = 17.5;
rotTitle(65, 125, [{t:"F"},{t:"2–10",s:SUB,sub:true}]);
rotTitle(65, 298, [{t:"F",c:"#ff0000"},{t:"2–4",s:SUB,sub:true,c:"#ff0000"},{t:"/μ ",c:"#ff0000"},
                   {t:"F",c:"#0000ff"},{t:"7–10",s:SUB,sub:true,c:"#0000ff"},{t:"/μ",c:"#0000ff"}]);
rotTitle(37, 485, [{t:"HR1"}]);
rotTitle(65, 490, [{t:"(F"},{t:"7–10",s:SUB,sub:true},{t:"//F"},{t:"2–4",s:SUB,sub:true},{t:")"}]);
rotTitle(65, 668, [{t:"F",c:"#ff1493"},{t:"4–7",s:SUB,sub:true,c:"#ff1493"},{t:"/μ ",c:"#ff1493"},
                   {t:"F",c:"#1e90ff"},{t:"10–18",s:SUB,sub:true,c:"#1e90ff"},{t:"/μ",c:"#1e90ff"}]);
rotTitle(37, 852, [{t:"HR2"}]);
rotTitle(65, 857, [{t:"(F"},{t:"10–18",s:SUB,sub:true},{t:"//F"},{t:"4–7",s:SUB,sub:true},{t:")"}]);
rotTitle(63, 1034, [{t:"Γ",f:"Liberation Serif, Times New Roman, serif",s:30},{t:"app",s:SUB,sub:true}]);
</script>
</body></html>
